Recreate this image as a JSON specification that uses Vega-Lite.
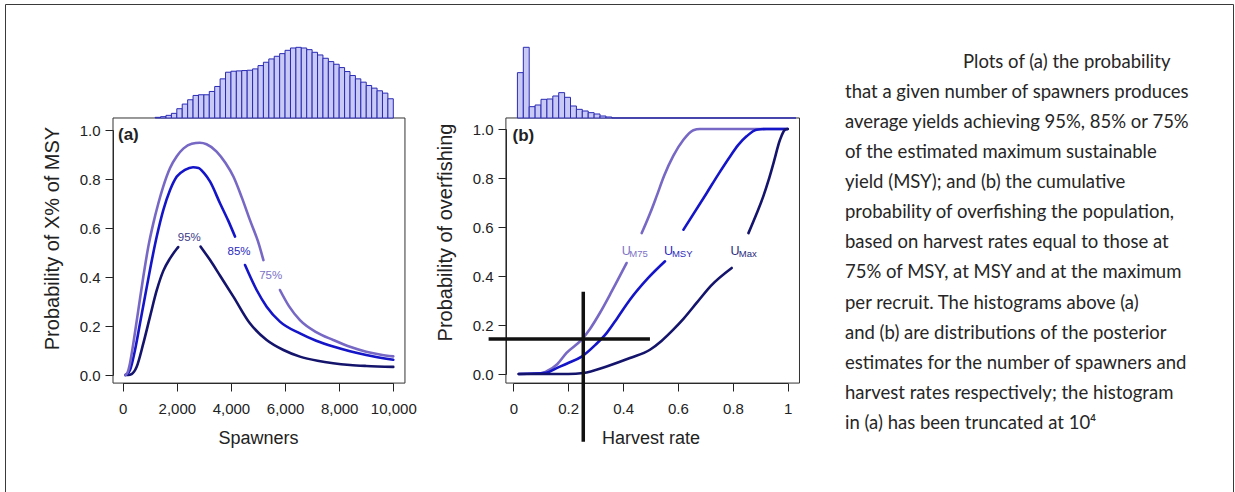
{
  "$schema": "https://vega.github.io/schema/vega-lite/v6.json",
  "width": 1228,
  "height": 488,
  "autosize": {"type": "none"},
  "padding": {"left": 5, "top": 4, "right": 2, "bottom": 0},
  "background": "white",
  "config": {
    "view": {"stroke": "#3a3a3a", "strokeWidth": 1},
    "axis": {"grid": false, "domainColor": "#222", "tickColor": "#222", "labelColor": "#222", "titleColor": "#222", "labelFont": "Liberation Sans", "titleFont": "Liberation Sans", "labelFontSize": 15, "titleFontSize": 18, "titleFontWeight": "normal", "tickSize": 8, "labelFlush": false, "labelOverlap": false, "domainWidth": 1, "tickWidth": 1},
    "text": {"font": "Liberation Sans"}
  },
  "datasets": {
    "curvesA": [
      {"level": "95%", "seg": 1, "spawners": 100, "p": 0},
      {"level": "95%", "seg": 1, "spawners": 200, "p": 0},
      {"level": "95%", "seg": 1, "spawners": 330, "p": 0.004},
      {"level": "95%", "seg": 1, "spawners": 517, "p": 0.034},
      {"level": "95%", "seg": 1, "spawners": 762, "p": 0.129},
      {"level": "95%", "seg": 1, "spawners": 1009, "p": 0.238},
      {"level": "95%", "seg": 1, "spawners": 1256, "p": 0.345},
      {"level": "95%", "seg": 1, "spawners": 1500, "p": 0.425},
      {"level": "95%", "seg": 1, "spawners": 1750, "p": 0.476},
      {"level": "95%", "seg": 1, "spawners": 2000, "p": 0.515},
      {"level": "95%", "seg": 1, "spawners": 2050, "p": 0.522},
      {"level": "95%", "seg": 2, "spawners": 2880, "p": 0.524},
      {"level": "95%", "seg": 2, "spawners": 3230, "p": 0.469},
      {"level": "95%", "seg": 2, "spawners": 3600, "p": 0.405},
      {"level": "95%", "seg": 2, "spawners": 4090, "p": 0.32},
      {"level": "95%", "seg": 2, "spawners": 4700, "p": 0.211},
      {"level": "95%", "seg": 2, "spawners": 5320, "p": 0.143},
      {"level": "95%", "seg": 2, "spawners": 5940, "p": 0.102},
      {"level": "95%", "seg": 2, "spawners": 6550, "p": 0.075},
      {"level": "95%", "seg": 2, "spawners": 7200, "p": 0.058},
      {"level": "95%", "seg": 2, "spawners": 7780, "p": 0.048},
      {"level": "95%", "seg": 2, "spawners": 8400, "p": 0.041},
      {"level": "95%", "seg": 2, "spawners": 9000, "p": 0.037},
      {"level": "95%", "seg": 2, "spawners": 10000, "p": 0.033},
      {"level": "85%", "seg": 1, "spawners": 100, "p": 0},
      {"level": "85%", "seg": 1, "spawners": 180, "p": 0.005},
      {"level": "85%", "seg": 1, "spawners": 270, "p": 0.02},
      {"level": "85%", "seg": 1, "spawners": 455, "p": 0.102},
      {"level": "85%", "seg": 1, "spawners": 640, "p": 0.211},
      {"level": "85%", "seg": 1, "spawners": 824, "p": 0.32},
      {"level": "85%", "seg": 1, "spawners": 1009, "p": 0.43},
      {"level": "85%", "seg": 1, "spawners": 1256, "p": 0.564},
      {"level": "85%", "seg": 1, "spawners": 1500, "p": 0.673},
      {"level": "85%", "seg": 1, "spawners": 1750, "p": 0.755},
      {"level": "85%", "seg": 1, "spawners": 2000, "p": 0.81},
      {"level": "85%", "seg": 1, "spawners": 2300, "p": 0.837},
      {"level": "85%", "seg": 1, "spawners": 2600, "p": 0.848},
      {"level": "85%", "seg": 1, "spawners": 2800, "p": 0.845},
      {"level": "85%", "seg": 1, "spawners": 3000, "p": 0.825},
      {"level": "85%", "seg": 1, "spawners": 3230, "p": 0.789},
      {"level": "85%", "seg": 1, "spawners": 3600, "p": 0.7},
      {"level": "85%", "seg": 1, "spawners": 3900, "p": 0.63},
      {"level": "85%", "seg": 1, "spawners": 4150, "p": 0.565},
      {"level": "85%", "seg": 2, "spawners": 4520, "p": 0.449},
      {"level": "85%", "seg": 2, "spawners": 4950, "p": 0.347},
      {"level": "85%", "seg": 2, "spawners": 5320, "p": 0.279},
      {"level": "85%", "seg": 2, "spawners": 5810, "p": 0.218},
      {"level": "85%", "seg": 2, "spawners": 6550, "p": 0.17},
      {"level": "85%", "seg": 2, "spawners": 7150, "p": 0.14},
      {"level": "85%", "seg": 2, "spawners": 7780, "p": 0.116},
      {"level": "85%", "seg": 2, "spawners": 8400, "p": 0.097},
      {"level": "85%", "seg": 2, "spawners": 9000, "p": 0.082},
      {"level": "85%", "seg": 2, "spawners": 10000, "p": 0.062},
      {"level": "75%", "seg": 1, "spawners": 100, "p": 0},
      {"level": "75%", "seg": 1, "spawners": 180, "p": 0.01},
      {"level": "75%", "seg": 1, "spawners": 270, "p": 0.048},
      {"level": "75%", "seg": 1, "spawners": 393, "p": 0.129},
      {"level": "75%", "seg": 1, "spawners": 577, "p": 0.265},
      {"level": "75%", "seg": 1, "spawners": 762, "p": 0.401},
      {"level": "75%", "seg": 1, "spawners": 947, "p": 0.524},
      {"level": "75%", "seg": 1, "spawners": 1131, "p": 0.619},
      {"level": "75%", "seg": 1, "spawners": 1316, "p": 0.7},
      {"level": "75%", "seg": 1, "spawners": 1500, "p": 0.77},
      {"level": "75%", "seg": 1, "spawners": 1750, "p": 0.845},
      {"level": "75%", "seg": 1, "spawners": 2000, "p": 0.893},
      {"level": "75%", "seg": 1, "spawners": 2250, "p": 0.925},
      {"level": "75%", "seg": 1, "spawners": 2550, "p": 0.944},
      {"level": "75%", "seg": 1, "spawners": 2850, "p": 0.948},
      {"level": "75%", "seg": 1, "spawners": 3100, "p": 0.942},
      {"level": "75%", "seg": 1, "spawners": 3470, "p": 0.912},
      {"level": "75%", "seg": 1, "spawners": 3800, "p": 0.865},
      {"level": "75%", "seg": 1, "spawners": 4090, "p": 0.81},
      {"level": "75%", "seg": 1, "spawners": 4400, "p": 0.725},
      {"level": "75%", "seg": 1, "spawners": 4700, "p": 0.633},
      {"level": "75%", "seg": 1, "spawners": 5000, "p": 0.545},
      {"level": "75%", "seg": 1, "spawners": 5200, "p": 0.469},
      {"level": "75%", "seg": 2, "spawners": 5810, "p": 0.347},
      {"level": "75%", "seg": 2, "spawners": 6150, "p": 0.28},
      {"level": "75%", "seg": 2, "spawners": 6550, "p": 0.224},
      {"level": "75%", "seg": 2, "spawners": 7150, "p": 0.175},
      {"level": "75%", "seg": 2, "spawners": 7780, "p": 0.143},
      {"level": "75%", "seg": 2, "spawners": 8400, "p": 0.115},
      {"level": "75%", "seg": 2, "spawners": 9000, "p": 0.095},
      {"level": "75%", "seg": 2, "spawners": 9500, "p": 0.084},
      {"level": "75%", "seg": 2, "spawners": 10000, "p": 0.076}
    ],
    "labelsA": [
      {"label": "95%", "spawners": 2460, "p": 0.558},
      {"label": "85%", "spawners": 4300, "p": 0.503},
      {"label": "75%", "spawners": 5470, "p": 0.404}
    ],
    "histA": [
      {"lo": 1200, "hi": 1400, "n": 2}, {"lo": 1400, "hi": 1600, "n": 4}, {"lo": 1600, "hi": 1800, "n": 8},
      {"lo": 1800, "hi": 2000, "n": 14}, {"lo": 2000, "hi": 2200, "n": 28}, {"lo": 2200, "hi": 2400, "n": 42},
      {"lo": 2400, "hi": 2600, "n": 55}, {"lo": 2600, "hi": 2800, "n": 68}, {"lo": 2800, "hi": 3000, "n": 70},
      {"lo": 3000, "hi": 3200, "n": 70}, {"lo": 3200, "hi": 3400, "n": 80}, {"lo": 3400, "hi": 3600, "n": 95},
      {"lo": 3600, "hi": 3800, "n": 118}, {"lo": 3800, "hi": 4000, "n": 138}, {"lo": 4000, "hi": 4200, "n": 141},
      {"lo": 4200, "hi": 4400, "n": 142}, {"lo": 4400, "hi": 4600, "n": 143}, {"lo": 4600, "hi": 4800, "n": 144},
      {"lo": 4800, "hi": 5000, "n": 148}, {"lo": 5000, "hi": 5200, "n": 158}, {"lo": 5200, "hi": 5400, "n": 168},
      {"lo": 5400, "hi": 5600, "n": 178}, {"lo": 5600, "hi": 5800, "n": 186}, {"lo": 5800, "hi": 6000, "n": 194},
      {"lo": 6000, "hi": 6200, "n": 204}, {"lo": 6200, "hi": 6400, "n": 211}, {"lo": 6400, "hi": 6600, "n": 213},
      {"lo": 6600, "hi": 6800, "n": 211}, {"lo": 6800, "hi": 7000, "n": 206}, {"lo": 7000, "hi": 7200, "n": 198},
      {"lo": 7200, "hi": 7400, "n": 190}, {"lo": 7400, "hi": 7600, "n": 180}, {"lo": 7600, "hi": 7800, "n": 170},
      {"lo": 7800, "hi": 8000, "n": 162}, {"lo": 8000, "hi": 8200, "n": 152}, {"lo": 8200, "hi": 8400, "n": 140},
      {"lo": 8400, "hi": 8600, "n": 128}, {"lo": 8600, "hi": 8800, "n": 118}, {"lo": 8800, "hi": 9000, "n": 108},
      {"lo": 9000, "hi": 9200, "n": 98}, {"lo": 9200, "hi": 9400, "n": 90}, {"lo": 9400, "hi": 9600, "n": 82},
      {"lo": 9600, "hi": 9800, "n": 75}, {"lo": 9800, "hi": 10000, "n": 58}
    ],
    "curvesB": [
      {"level": "M75", "seg": 1, "rate": 0.02, "p": 0},
      {"level": "M75", "seg": 1, "rate": 0.1, "p": 0.003},
      {"level": "M75", "seg": 1, "rate": 0.12, "p": 0.01},
      {"level": "M75", "seg": 1, "rate": 0.16, "p": 0.04},
      {"level": "M75", "seg": 1, "rate": 0.194, "p": 0.086},
      {"level": "M75", "seg": 1, "rate": 0.249, "p": 0.14},
      {"level": "M75", "seg": 1, "rate": 0.28, "p": 0.185},
      {"level": "M75", "seg": 1, "rate": 0.316, "p": 0.25},
      {"level": "M75", "seg": 1, "rate": 0.36, "p": 0.34},
      {"level": "M75", "seg": 1, "rate": 0.413, "p": 0.453},
      {"level": "M75", "seg": 2, "rate": 0.468, "p": 0.575},
      {"level": "M75", "seg": 2, "rate": 0.5, "p": 0.66},
      {"level": "M75", "seg": 2, "rate": 0.522, "p": 0.725},
      {"level": "M75", "seg": 2, "rate": 0.55, "p": 0.81},
      {"level": "M75", "seg": 2, "rate": 0.583, "p": 0.89},
      {"level": "M75", "seg": 2, "rate": 0.62, "p": 0.956},
      {"level": "M75", "seg": 2, "rate": 0.656, "p": 0.995},
      {"level": "M75", "seg": 2, "rate": 0.68, "p": 1.0},
      {"level": "M75", "seg": 2, "rate": 1.0, "p": 1.0},
      {"level": "MSY", "seg": 1, "rate": 0.02, "p": 0},
      {"level": "MSY", "seg": 1, "rate": 0.12, "p": 0.005},
      {"level": "MSY", "seg": 1, "rate": 0.158, "p": 0.024},
      {"level": "MSY", "seg": 1, "rate": 0.2, "p": 0.045},
      {"level": "MSY", "seg": 1, "rate": 0.249, "p": 0.071},
      {"level": "MSY", "seg": 1, "rate": 0.3, "p": 0.12},
      {"level": "MSY", "seg": 1, "rate": 0.34, "p": 0.167},
      {"level": "MSY", "seg": 1, "rate": 0.38, "p": 0.23},
      {"level": "MSY", "seg": 1, "rate": 0.425, "p": 0.303},
      {"level": "MSY", "seg": 1, "rate": 0.49, "p": 0.39},
      {"level": "MSY", "seg": 1, "rate": 0.553, "p": 0.46},
      {"level": "MSY", "seg": 2, "rate": 0.62, "p": 0.589},
      {"level": "MSY", "seg": 2, "rate": 0.705, "p": 0.739},
      {"level": "MSY", "seg": 2, "rate": 0.75, "p": 0.82},
      {"level": "MSY", "seg": 2, "rate": 0.79, "p": 0.888},
      {"level": "MSY", "seg": 2, "rate": 0.82, "p": 0.935},
      {"level": "MSY", "seg": 2, "rate": 0.85, "p": 0.97},
      {"level": "MSY", "seg": 2, "rate": 0.887, "p": 0.997},
      {"level": "MSY", "seg": 2, "rate": 0.923, "p": 1.0},
      {"level": "MSY", "seg": 2, "rate": 1.0, "p": 1.0},
      {"level": "Max", "seg": 1, "rate": 0.02, "p": 0},
      {"level": "Max", "seg": 1, "rate": 0.2, "p": 0},
      {"level": "Max", "seg": 1, "rate": 0.255, "p": 0.004},
      {"level": "Max", "seg": 1, "rate": 0.34, "p": 0.031},
      {"level": "Max", "seg": 1, "rate": 0.425, "p": 0.065},
      {"level": "Max", "seg": 1, "rate": 0.498, "p": 0.099},
      {"level": "Max", "seg": 1, "rate": 0.54, "p": 0.135},
      {"level": "Max", "seg": 1, "rate": 0.583, "p": 0.181},
      {"level": "Max", "seg": 1, "rate": 0.62, "p": 0.225},
      {"level": "Max", "seg": 1, "rate": 0.668, "p": 0.29},
      {"level": "Max", "seg": 1, "rate": 0.72, "p": 0.36},
      {"level": "Max", "seg": 1, "rate": 0.796, "p": 0.433},
      {"level": "Max", "seg": 2, "rate": 0.857, "p": 0.575},
      {"level": "Max", "seg": 2, "rate": 0.885, "p": 0.65},
      {"level": "Max", "seg": 2, "rate": 0.911, "p": 0.725},
      {"level": "Max", "seg": 2, "rate": 0.93, "p": 0.79},
      {"level": "Max", "seg": 2, "rate": 0.948, "p": 0.86},
      {"level": "Max", "seg": 2, "rate": 0.972, "p": 0.956},
      {"level": "Max", "seg": 2, "rate": 0.99, "p": 0.997},
      {"level": "Max", "seg": 2, "rate": 1.0, "p": 1.0}
    ],
    "labelsB": [
      {"grp": "M75", "rate": 0.395, "p": 0.501, "sx": 0.423, "sp": 0.489},
      {"grp": "MSY", "rate": 0.549, "p": 0.501, "sx": 0.578, "sp": 0.489},
      {"grp": "Max", "rate": 0.792, "p": 0.501, "sx": 0.822, "sp": 0.489}
    ],
    "histB": [
      {"lo": 0.015, "hi": 0.0365, "n": 136}, {"lo": 0.0365, "hi": 0.058, "n": 212},
      {"lo": 0.058, "hi": 0.0795, "n": 34}, {"lo": 0.0795, "hi": 0.101, "n": 39},
      {"lo": 0.101, "hi": 0.1225, "n": 56}, {"lo": 0.1225, "hi": 0.144, "n": 57},
      {"lo": 0.144, "hi": 0.1655, "n": 66}, {"lo": 0.1655, "hi": 0.187, "n": 76},
      {"lo": 0.187, "hi": 0.2085, "n": 62}, {"lo": 0.2085, "hi": 0.23, "n": 36},
      {"lo": 0.23, "hi": 0.2515, "n": 26}, {"lo": 0.2515, "hi": 0.273, "n": 21},
      {"lo": 0.273, "hi": 0.2945, "n": 16}, {"lo": 0.2945, "hi": 0.316, "n": 12},
      {"lo": 0.316, "hi": 0.3375, "n": 6}, {"lo": 0.3375, "hi": 0.359, "n": 3},
      {"lo": 0.359, "hi": 1.03, "n": 0}
    ],
    "boxes": [
      {"panel": "a", "x0": -358, "x1": 10431, "y0": -0.033, "y1": 1.049},
      {"panel": "b", "x0": -0.027, "x1": 1.043, "y0": -0.037, "y1": 1.045}
    ],
    "crosshair": [
      {"x1": -0.09, "x2": 0.498, "y1": 0.143, "y2": 0.143},
      {"x1": 0.255, "x2": 0.255, "y1": -0.277, "y2": 0.336}
    ],
    "caption": [
      {"line": 1, "text": "Plots of (a) the probability"},
      {"line": 2, "text": "that a given number of spawners produces"},
      {"line": 3, "text": "average yields achieving 95%, 85% or 75%"},
      {"line": 4, "text": "of the estimated maximum sustainable"},
      {"line": 5, "text": "yield (MSY); and (b) the cumulative"},
      {"line": 6, "text": "probability of overfishing the population,"},
      {"line": 7, "text": "based on harvest rates equal to those at"},
      {"line": 8, "text": "75% of MSY, at MSY and at the maximum"},
      {"line": 9, "text": "per recruit. The histograms above (a)"},
      {"line": 10, "text": "and (b) are distributions of the posterior"},
      {"line": 11, "text": "estimates for the number of spawners and"},
      {"line": 12, "text": "harvest rates respectively; the histogram"},
      {"line": 13, "text": "in (a) has been truncated at 10⁴"}
    ]
  },
  "layer": [
    {
      "data": {"name": "boxes"},
      "transform": [{"filter": "datum.panel == 'a'"}],
      "mark": {"type": "rect", "fillOpacity": 0, "stroke": "#333", "strokeWidth": 1},
      "encoding": {
        "x": {"field": "x0", "type": "quantitative", "scale": {"domain": [0, 10000], "range": [117.7, 388.3], "nice": false, "zero": false}, "axis": null},
        "x2": {"field": "x1"},
        "y": {"field": "y0", "type": "quantitative", "scale": {"domain": [0, 1], "range": [371, 126], "nice": false, "zero": false}, "axis": null},
        "y2": {"field": "y1"}
      }
    },
    {
      "data": {"name": "histA"},
      "mark": {"type": "rect", "fill": "#c9c9f6", "stroke": "#2a2ab4", "strokeWidth": 1},
      "encoding": {
        "x": {"field": "lo", "type": "quantitative", "scale": {"domain": [0, 10000], "range": [117.7, 388.3], "nice": false, "zero": false}, "axis": null},
        "x2": {"field": "hi"},
        "y": {"field": "n", "type": "quantitative", "scale": {"domain": [0, 214], "range": [114, 43], "nice": false, "zero": false}, "axis": null},
        "y2": {"datum": 0}
      }
    },
    {
      "data": {"name": "curvesA"},
      "mark": {"type": "line", "strokeWidth": 2.6, "strokeJoin": "round", "strokeCap": "round", "interpolate": "monotone"},
      "encoding": {
        "x": {"field": "spawners", "type": "quantitative", "scale": {"domain": [0, 10000], "range": [117.7, 388.3], "nice": false, "zero": false},
          "axis": {"orient": "bottom", "offset": -109, "values": [0, 2000, 4000, 6000, 8000, 10000], "format": ",.0f", "title": "Spawners", "labelPadding": 10, "titlePadding": 13}},
        "y": {"field": "p", "type": "quantitative", "scale": {"domain": [0, 1], "range": [371, 126], "nice": false, "zero": false},
          "axis": {"orient": "left", "offset": -108, "values": [0, 0.2, 0.4, 0.6, 0.8, 1], "format": ".1f", "title": "Probability of X% of MSY", "titleFontSize": 20, "labelPadding": 5, "titlePadding": 17, "titleY": 234}},
        "color": {"field": "level", "type": "nominal", "scale": {"domain": ["95%", "85%", "75%"], "range": ["#14146c", "#1414c8", "#7668c4"]}, "legend": null},
        "detail": {"field": "seg", "type": "nominal"}
      }
    },
    {
      "data": {"name": "labelsA"},
      "mark": {"type": "text", "fontSize": 11.5, "align": "center", "baseline": "middle"},
      "encoding": {
        "x": {"field": "spawners", "type": "quantitative", "scale": {"domain": [0, 10000], "range": [117.7, 388.3], "nice": false, "zero": false}, "axis": null},
        "y": {"field": "p", "type": "quantitative", "scale": {"domain": [0, 1], "range": [371, 126], "nice": false, "zero": false}, "axis": null},
        "text": {"field": "label", "type": "nominal"},
        "color": {"field": "label", "type": "nominal", "scale": {"domain": ["95%", "85%", "75%"], "range": ["#3c3c86", "#2a2ac0", "#7c72c6"]}, "legend": null}
      }
    },
    {
      "data": {"values": [{"tag": "(a)", "s": -174, "p": 0.978}]},
      "mark": {"type": "text", "fontSize": 17, "fontWeight": "bold", "align": "left", "baseline": "middle", "color": "#222"},
      "encoding": {
        "x": {"field": "s", "type": "quantitative", "scale": {"domain": [0, 10000], "range": [117.7, 388.3], "nice": false, "zero": false}, "axis": null},
        "y": {"field": "p", "type": "quantitative", "scale": {"domain": [0, 1], "range": [371, 126], "nice": false, "zero": false}, "axis": null},
        "text": {"field": "tag", "type": "nominal"}
      }
    },
    {
      "data": {"name": "boxes"},
      "transform": [{"filter": "datum.panel == 'b'"}],
      "mark": {"type": "rect", "fillOpacity": 0, "stroke": "#333", "strokeWidth": 1},
      "encoding": {
        "x": {"field": "x0", "type": "quantitative", "scale": {"domain": [0, 1], "range": [508.3, 782.7], "nice": false, "zero": false}, "axis": null},
        "x2": {"field": "x1"},
        "y": {"field": "y0", "type": "quantitative", "scale": {"domain": [0, 1], "range": [370, 125], "nice": false, "zero": false}, "axis": null},
        "y2": {"field": "y1"}
      }
    },
    {
      "data": {"name": "histB"},
      "mark": {"type": "rect", "fill": "#c9c9f6", "stroke": "#2a2ab4", "strokeWidth": 1},
      "encoding": {
        "x": {"field": "lo", "type": "quantitative", "scale": {"domain": [0, 1], "range": [508.3, 782.7], "nice": false, "zero": false}, "axis": null},
        "x2": {"field": "hi"},
        "y": {"field": "n", "type": "quantitative", "scale": {"domain": [0, 212], "range": [114, 43.3], "nice": false, "zero": false}, "axis": null},
        "y2": {"datum": 0}
      }
    },
    {
      "data": {"name": "curvesB"},
      "mark": {"type": "line", "strokeWidth": 2.6, "strokeJoin": "round", "strokeCap": "round", "interpolate": "monotone"},
      "encoding": {
        "x": {"field": "rate", "type": "quantitative", "scale": {"domain": [0, 1], "range": [508.3, 782.7], "nice": false, "zero": false},
          "axis": {"orient": "bottom", "offset": -109, "values": [0, 0.2, 0.4, 0.6, 0.8, 1], "format": "~g", "title": "Harvest rate", "labelPadding": 10, "titlePadding": 13}},
        "y": {"field": "p", "type": "quantitative", "scale": {"domain": [0, 1], "range": [370, 125], "nice": false, "zero": false},
          "axis": {"orient": "left", "offset": -501, "values": [0, 0.2, 0.4, 0.6, 0.8, 1], "format": ".1f", "title": "Probability of overfishing", "titleFontSize": 20, "labelPadding": 5, "titlePadding": 17, "titleY": 228}},
        "color": {"field": "level", "type": "nominal", "scale": {"domain": ["M75", "MSY", "Max"], "range": ["#7668c4", "#1414c8", "#14146c"]}, "legend": null},
        "detail": {"field": "seg", "type": "nominal"}
      }
    },
    {
      "data": {"name": "labelsB"},
      "mark": {"type": "text", "fontSize": 12.5, "align": "left", "baseline": "middle", "text": "U"},
      "encoding": {
        "x": {"field": "rate", "type": "quantitative", "scale": {"domain": [0, 1], "range": [508.3, 782.7], "nice": false, "zero": false}, "axis": null},
        "y": {"field": "p", "type": "quantitative", "scale": {"domain": [0, 1], "range": [370, 125], "nice": false, "zero": false}, "axis": null},
        "color": {"field": "grp", "type": "nominal", "scale": {"domain": ["M75", "MSY", "Max"], "range": ["#7c72c6", "#2a2ac0", "#2a2a7c"]}, "legend": null}
      }
    },
    {
      "data": {"name": "labelsB"},
      "mark": {"type": "text", "fontSize": 9.5, "align": "left", "baseline": "middle"},
      "encoding": {
        "x": {"field": "sx", "type": "quantitative", "scale": {"domain": [0, 1], "range": [508.3, 782.7], "nice": false, "zero": false}, "axis": null},
        "y": {"field": "sp", "type": "quantitative", "scale": {"domain": [0, 1], "range": [370, 125], "nice": false, "zero": false}, "axis": null},
        "text": {"field": "grp", "type": "nominal"},
        "color": {"field": "grp", "type": "nominal", "scale": {"domain": ["M75", "MSY", "Max"], "range": ["#7c72c6", "#2a2ac0", "#2a2a7c"]}, "legend": null}
      }
    },
    {
      "data": {"values": [{"tag": "(b)", "r": -0.003, "p": 0.973}]},
      "mark": {"type": "text", "fontSize": 17, "fontWeight": "bold", "align": "left", "baseline": "middle", "color": "#222"},
      "encoding": {
        "x": {"field": "r", "type": "quantitative", "scale": {"domain": [0, 1], "range": [508.3, 782.7], "nice": false, "zero": false}, "axis": null},
        "y": {"field": "p", "type": "quantitative", "scale": {"domain": [0, 1], "range": [370, 125], "nice": false, "zero": false}, "axis": null},
        "text": {"field": "tag", "type": "nominal"}
      }
    },
    {
      "data": {"name": "crosshair"},
      "mark": {"type": "rule", "strokeWidth": 3.5, "color": "#111", "strokeCap": "butt"},
      "encoding": {
        "x": {"field": "x1", "type": "quantitative", "scale": {"domain": [0, 1], "range": [508.3, 782.7], "nice": false, "zero": false}, "axis": null},
        "x2": {"field": "x2"},
        "y": {"field": "y1", "type": "quantitative", "scale": {"domain": [0, 1], "range": [370, 125], "nice": false, "zero": false}, "axis": null},
        "y2": {"field": "y2"}
      }
    },
    {
      "data": {"name": "caption"},
      "mark": {"type": "text", "font": "Lato", "fontSize": 18.5, "align": "left", "baseline": "middle", "color": "#262626", "dx": {"expr": "datum.line == 1 ? 118 : 0"}},
      "encoding": {
        "y": {"field": "line", "type": "quantitative", "scale": {"domain": [1, 13], "range": [57.7, 419], "nice": false, "zero": false}, "axis": null},
        "x": {"field": "line", "type": "quantitative", "scale": {"domain": [0, 1], "range": [840, 840], "nice": false, "zero": false, "clamp": true}, "axis": null},
        "text": {"field": "text", "type": "nominal"}
      }
    }
  ],
  "resolve": {
    "scale": {"x": "independent", "y": "independent", "color": "independent"},
    "axis": {"x": "independent", "y": "independent"}
  }
}
